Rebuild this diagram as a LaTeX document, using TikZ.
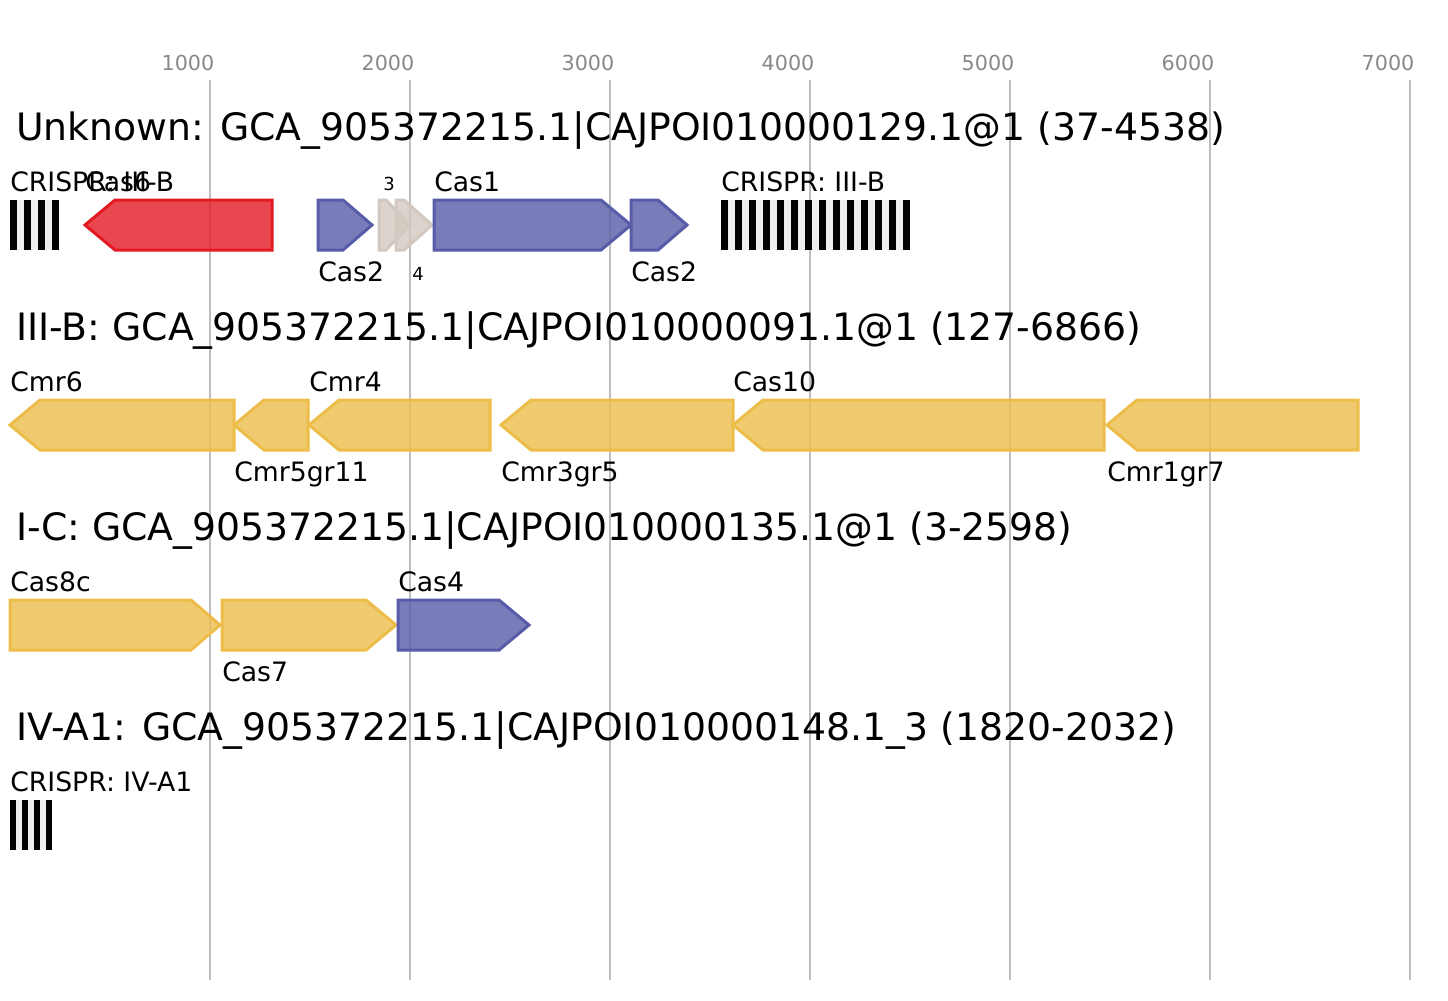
\documentclass[tikz,border=0pt]{standalone}
\usepackage{fontspec}
\setmainfont{DejaVu Sans}
\definecolor{gridgray}{RGB}{190,190,190}
\definecolor{tickgray}{RGB}{136,136,136}
\definecolor{cred}{RGB}{227,26,36}
\definecolor{cblue}{RGB}{88,92,168}
\definecolor{cyel}{RGB}{237,189,74}
\definecolor{clight}{RGB}{210,200,192}
\definecolor{spacer}{RGB}{238,238,238}
\tikzset{
  gene/.style={draw=#1, fill=#1, fill opacity=0.8, line width=2.25pt, line join=miter},
  gridline/.style={draw=gridgray, line width=1.1pt},
  ticklbl/.style={text=tickgray, font=\fontsize{15.5}{18}\selectfont, inner sep=0pt, anchor=base},
  titlelbl/.style={font=\fontsize{28.3}{34}\selectfont, inner sep=0pt, anchor=base west},
  genelbl/.style={font=\fontsize{20}{24}\selectfont, inner sep=0pt, anchor=base west},
  smalllbl/.style={font=\fontsize{13.5}{16}\selectfont, inner sep=0pt, anchor=base west}
}
% forward gene: start, end, top, colour, head
\newcommand{\gfwd}[5]{%
  \draw[gene=#4] (#1,#3) -- ({#2-#5},#3) -- (#2,{#3+25}) -- ({#2-#5},{#3+50}) -- (#1,{#3+50}) -- cycle;}
% reverse gene: tip, end, top, colour, head
\newcommand{\grev}[5]{%
  \draw[gene=#4] (#1,{#3+25}) -- ({#1+#5},#3) -- (#2,#3) -- (#2,{#3+50}) -- ({#1+#5},{#3+50}) -- cycle;}
% crispr array: x, top, number of repeats, unit width
\newcommand{\crisprarr}[4]{%
  \fill[spacer] (#1,#2) rectangle ({#1+(2*#3-1)*#4},{#2+50});
  \foreach \i in {1,...,#3} {\fill[black] ({#1+2*(\i-1)*#4},#2) rectangle ({#1+(2*\i-1)*#4},{#2+50});}}
\begin{document}
\begin{tikzpicture}[x=0.75pt,y=-0.75pt]
\useasboundingbox[fill=white] (0,0) rectangle (1448,1000);
% grid
\foreach \gx/\lab in {210/1000,410/2000,610/3000,810/4000,1010/5000,1210/6000,1410/7000} {
  \draw[gridline] (\gx,80) -- (\gx,980);
  \node[ticklbl] (t\lab) at ({\gx-22},70.5) {\lab};
}
% ---------- row 1
\node[titlelbl] (title1) at (16,140) {Unknown: GCA\_905372215.1|CAJPOI010000129.1@1 (37-4538)};
\crisprarr{10}{200}{4}{7}
\grev{85}{272}{200}{cred}{30}
\gfwd{318}{372}{200}{cblue}{29}
\gfwd{379}{410}{200}{clight}{24}
\gfwd{396}{432}{200}{clight}{28}
\gfwd{434}{631}{200}{cblue}{30}
\gfwd{631}{687}{200}{cblue}{29}
\crisprarr{721}{200}{14}{7}
\node[genelbl] (a1) at (10,191) {CRISPR: III-B};
\node[genelbl] (a2) at (85,191) {Cas6};
\node[genelbl] (a3) at (318,281) {Cas2};
\node[smalllbl] (a4) at (383,190) {3};
\node[smalllbl] (a5) at (412,280) {4};
\node[genelbl] (a6) at (434,191) {Cas1};
\node[genelbl] (a7) at (631,281) {Cas2};
\node[genelbl] (a8) at (721,191) {CRISPR: III-B};
% ---------- row 2
\node[titlelbl] (title2) at (16,340) {III-B: GCA\_905372215.1|CAJPOI010000091.1@1 (127-6866)};
\grev{10}{234}{400}{cyel}{30}
\grev{234}{308}{400}{cyel}{30}
\grev{309}{490}{400}{cyel}{30}
\grev{501}{733}{400}{cyel}{30}
\grev{733}{1104}{400}{cyel}{30}
\grev{1107}{1358}{400}{cyel}{30}
\node[genelbl] (b1) at (10,391) {Cmr6};
\node[genelbl] (b2) at (234,481) {Cmr5gr11};
\node[genelbl] (b3) at (309,391) {Cmr4};
\node[genelbl] (b4) at (501,481) {Cmr3gr5};
\node[genelbl] (b5) at (733,391) {Cas10};
\node[genelbl] (b6) at (1107,481) {Cmr1gr7};
% ---------- row 3
\node[titlelbl] (title3) at (16,540) {I-C: GCA\_905372215.1|CAJPOI010000135.1@1 (3-2598)};
\gfwd{10}{220}{600}{cyel}{29}
\gfwd{222}{396}{600}{cyel}{30}
\gfwd{398}{529}{600}{cblue}{30}
\node[genelbl] (c1) at (10,591) {Cas8c};
\node[genelbl] (c2) at (222,681) {Cas7};
\node[genelbl] (c3) at (398,591) {Cas4};
% ---------- row 4
\node[titlelbl] (title4) at (16,740) {IV-A1: GCA\_905372215.1|CAJPOI010000148.1\_3 (1820-2032)};
\crisprarr{10}{800}{4}{6}
\node[genelbl] (d1) at (10,791) {CRISPR: IV-A1};
\end{tikzpicture}
\end{document}
